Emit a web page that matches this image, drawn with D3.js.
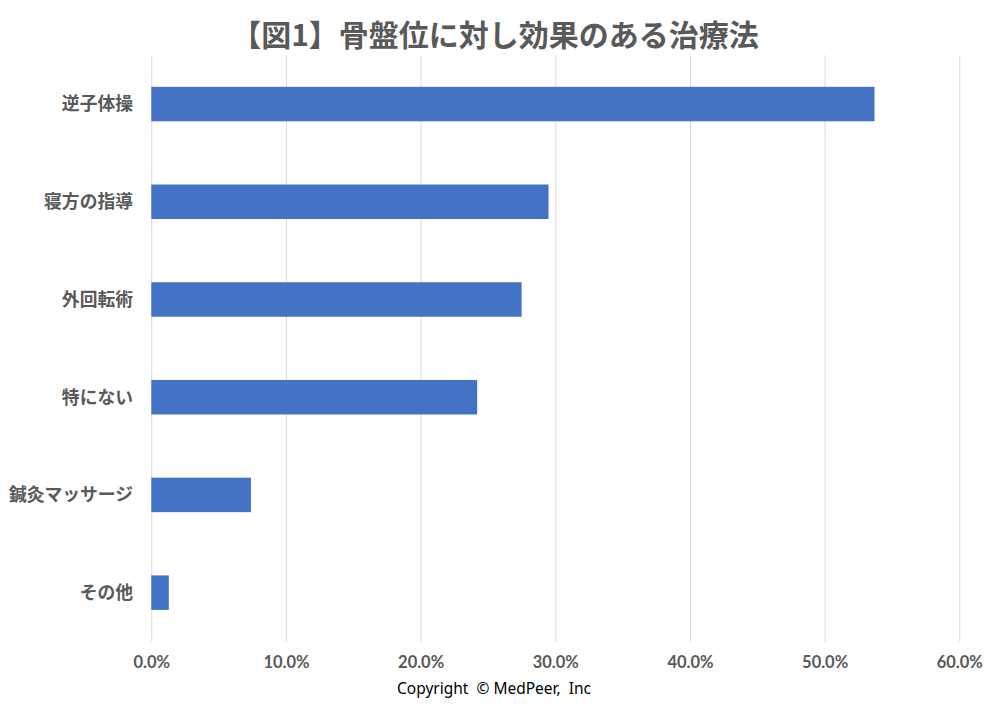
<!DOCTYPE html>
<meta charset="utf-8">
<style>
	body { margin: 0; background: #fff; }
	#chart svg { display: block; }
	.grid line { stroke: #d9d9d9; stroke-width: 1; }
	.grid .domain { display: none; }
	.x-axis text { font-family: Lato, "Noto Sans", sans-serif; font-weight: bold; font-size: 16.5px; fill: #595959; }
	.x-axis .domain, .x-axis line { display: none; }
	.y-label { font-family: "Noto Sans CJK JP", sans-serif; font-weight: bold; font-size: 17.8px; fill: #595959; }
	.title { font-family: "Noto Sans CJK JP", sans-serif; font-weight: bold; font-size: 30px; fill: #595959; }
	.copyright { font-family: "Noto Sans", sans-serif; font-size: 15.5px; fill: #000; }
</style>
<body>
<div id="chart"></div>
<script src="https://cdn.jsdelivr.net/npm/d3@7"></script>
<script>
	// data
	const categories = ["逆子体操", "寝方の指導", "外回転術", "特にない", "鍼灸マッサージ", "その他"];
	const values = [53.7, 29.5, 27.5, 24.2, 7.4, 1.3];
	const xTicks = [0, 10, 20, 30, 40, 50, 60];
	const titleText = "【図1】骨盤位に対し効果のある治療法";
	const copyrightText = "Copyright  © MedPeer,  Inc";

	const width = 992, height = 709;
	const plot = { left: 151.3, right: 959.3, top: 55.2, bottom: 641.5 };

	const svg = d3.select("#chart").append("svg")
		.attr("width", width)
		.attr("height", height);

	const x = d3.scaleLinear().domain([0, 60]).range([plot.left, plot.right]);
	const y = d3.scaleBand().domain(categories)
		.range([plot.top, plot.bottom])
		.paddingInner(0.647)
		.paddingOuter(0.3235);

	// vertical gridlines
	svg.append("g")
		.attr("class", "grid")
		.attr("transform", `translate(0, ${plot.bottom})`)
		.call(d3.axisBottom(x).tickValues(xTicks).tickSize(-(plot.bottom - plot.top)).tickFormat(""));

	// bars
	svg.append("g").selectAll("rect")
		.data(categories)
		.join("rect")
		.attr("x", x(0))
		.attr("y", d => y(d))
		.attr("width", (d, i) => x(values[i]) - x(0))
		.attr("height", y.bandwidth())
		.attr("fill", "#4472c4");

	// x axis labels
	svg.append("g")
		.attr("class", "x-axis")
		.attr("transform", `translate(0, ${plot.bottom})`)
		.call(d3.axisBottom(x).tickValues(xTicks).tickSize(0).tickPadding(15).tickFormat(d => d.toFixed(1) + "%"));

	// category labels
	svg.append("g").selectAll("text")
		.data(categories)
		.join("text")
		.attr("class", "y-label")
		.attr("x", 133)
		.attr("y", d => y(d) + y.bandwidth() / 2)
		.attr("dy", "0.36em")
		.attr("text-anchor", "end")
		.text(d => d);

	svg.append("text")
		.attr("class", "title")
		.attr("x", 495)
		.attr("y", 46)
		.attr("text-anchor", "middle")
		.text(titleText);

	svg.append("text")
		.attr("class", "copyright")
		.attr("x", 494)
		.attr("y", 694)
		.attr("text-anchor", "middle")
		.style("white-space", "pre")
		.text(copyrightText);
</script>
</body>
